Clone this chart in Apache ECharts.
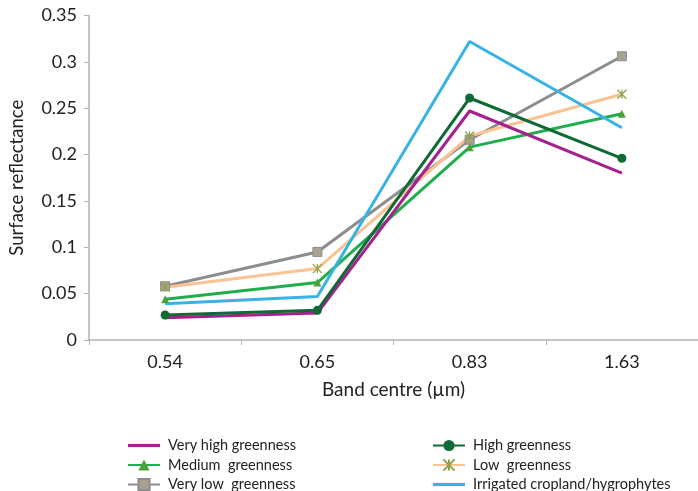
<!DOCTYPE html>
<html>
<head>
<meta charset="utf-8">
<script src="https://cdn.jsdelivr.net/npm/echarts@6/dist/echarts.min.js"></script>
<style>
  html, body { margin: 0; padding: 0; background: #fff; }
  #chart { width: 698px; height: 491px; }
</style>
</head>
<body>
<div id="chart"></div>
<script>
const bands = ['0.54', '0.65', '0.83', '1.63'];
const yTicks = [0, 0.05, 0.1, 0.15, 0.2, 0.25, 0.3, 0.35];

const veryHigh = [0.024, 0.029, 0.247, 0.180];
const high = [0.027, 0.032, 0.261, 0.196];
const medium = [0.044, 0.062, 0.208, 0.244];
const low = [0.057, 0.077, 0.220, 0.265];
const veryLow = [0.058, 0.095, 0.216, 0.306];
const irrigated = [0.039, 0.047, 0.322, 0.229];

const FONT = 'Lato';
const asterisk = 'path://M0,0L10,10M10,0L0,10M5,0L5,10';
const plainLine = 'path://M0,0H32V3.2H0Z';

const lineSeries = (name, data, color, symbol, itemStyle, size) => ({
    name: name,
    type: 'line',
    data: data,
    symbol: symbol,
    symbolSize: size || 8,
    showSymbol: symbol !== 'none',
    lineStyle: { color: color, width: 3 },
    itemStyle: itemStyle || { color: color },
    emphasis: { disabled: true },
    animation: false
});

const chart = echarts.init(document.getElementById('chart'));

// two little legend columns under the plot
const legendBase = {
    orient: 'vertical',
    top: 438,
    height: 60,
    padding: 0,
    itemWidth: 32,
    itemHeight: 14,
    itemGap: 4.5,
    textStyle: { fontFamily: FONT, fontSize: 14.5, color: '#222', lineHeight: 14, padding: [0, 0, 0, 3] }
};

chart.setOption({
    backgroundColor: '#fff',
    textStyle: { fontFamily: FONT },
    grid: { left: 88, right: -10, top: 15.5, bottom: 151 },
    legend: [
        Object.assign({
            left: 127,
            data: [
                { name: 'Very high greenness', icon: plainLine },
                'Medium  greenness',
                'Very low  greenness'
            ]
        }, legendBase),
        Object.assign({
            left: 432,
            data: [
                'High greenness',
                'Low  greenness',
                { name: 'Irrigated cropland/hygrophytes', icon: plainLine }
            ]
        }, legendBase)
    ],
    xAxis: {
        type: 'category',
        data: bands,
        boundaryGap: true,
        name: 'Band centre (\u00b5m)',
        nameLocation: 'middle',
        nameGap: 40,
        nameTextStyle: { fontFamily: FONT, fontSize: 19, color: '#222' },
        axisLine: { lineStyle: { color: '#b3b3b3', width: 1.5 } },
        axisTick: { show: true, length: 5, lineStyle: { color: '#b3b3b3' } },
        axisLabel: { fontFamily: FONT, fontSize: 18, color: '#222', margin: 13 },
        splitLine: { show: false }
    },
    yAxis: {
        type: 'value',
        min: yTicks[0],
        max: yTicks[yTicks.length - 1],
        interval: 0.05,
        name: 'Surface reflectance',
        nameLocation: 'middle',
        nameGap: 62,
        nameTextStyle: { fontFamily: FONT, fontSize: 18.5, color: '#222' },
        axisLine: { show: true, lineStyle: { color: '#b3b3b3', width: 1.5 } },
        axisTick: { show: true, length: 5, lineStyle: { color: '#b3b3b3' } },
        axisLabel: {
            fontFamily: FONT, fontSize: 18, color: '#222', margin: 12,
            formatter: (v) => String(parseFloat(v.toFixed(2)))
        },
        splitLine: { show: false }
    },
    series: [
        lineSeries('Very low  greenness', veryLow, '#8d8d8d', 'rect',
            { color: '#aaa290', borderColor: '#8d8d8d', borderWidth: 1 }, 9),
        lineSeries('Low  greenness', low, '#fbc293', asterisk,
            { color: '#8ea34a', borderColor: '#8ea34a', borderWidth: 1.3 }, 9),
        lineSeries('Medium  greenness', medium, '#1fae4b', 'triangle',
            { color: '#4e9f3a' }, 8),
        lineSeries('Irrigated cropland/hygrophytes', irrigated, '#38b3e6', 'none'),
        lineSeries('Very high greenness', veryHigh, '#a5218f', 'none'),
        lineSeries('High greenness', high, '#0f6a35', 'circle',
            { color: '#0f6a35' }, 9)
    ]
});
</script>
</body>
</html>
